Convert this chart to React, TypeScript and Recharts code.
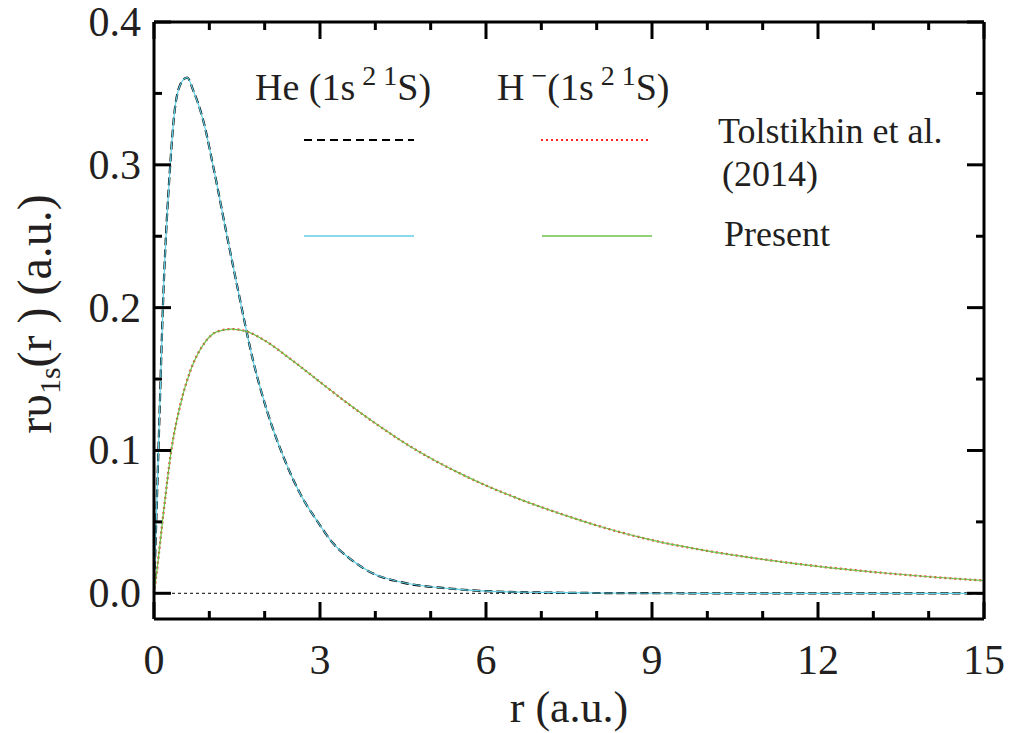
import React from 'react'
import { LineChart, Line, XAxis, YAxis, ReferenceLine } from 'recharts'

// He (1s² ¹S): radial samples r (a.u.) and r·υ1s(r)
const heR = [0, 0.04, 0.08, 0.17, 0.29, 0.38, 0.5, 0.6, 0.71, 0.89, 1.07, 1.31, 1.52, 1.79, 2.04, 2.34, 2.64, 2.94, 3.24, 3.54, 3.96, 4.45, 5.35, 6, 7, 8, 10, 12, 15]
const heV = [0, 0.05, 0.1, 0.21, 0.298, 0.34, 0.358, 0.361, 0.352, 0.331, 0.299, 0.252, 0.212, 0.163, 0.128, 0.0955, 0.0698, 0.0511, 0.0348, 0.0243, 0.0138, 0.0079, 0.0033, 0.0015, 0.0006, 0.0002, 0, 0, 0]

// H⁻ (1s² ¹S)
const hmR = [0, 0.05, 0.17, 0.32, 0.47, 0.65, 0.89, 1.13, 1.4, 1.7, 2, 2.5, 3, 3.5, 4, 4.5, 5, 5.5, 6, 6.5, 7, 7.5, 8, 9, 10, 11, 12, 13, 14, 15]
const hmV = [0, 0.015, 0.056, 0.102, 0.131, 0.155, 0.174, 0.183, 0.185, 0.183, 0.177, 0.163, 0.148, 0.133, 0.119, 0.106, 0.0945, 0.0845, 0.0755, 0.0675, 0.0603, 0.0537, 0.0475, 0.0372, 0.0297, 0.0238, 0.0189, 0.0149, 0.0116, 0.0089]

const xTicks = [0, 1, 2, 3, 4, 5, 6, 7, 8, 9, 10, 11, 12, 13, 14, 15]
const yTicks = [0, 0.05, 0.1, 0.15, 0.2, 0.25, 0.3, 0.35, 0.4]
const yTickLabels = ['0.0', '0.1', '0.2', '0.3', '0.4']

const heData = heR.map((r, i) => ({ r, v: heV[i] }))
const hmData = hmR.map((r, i) => ({ r, v: hmV[i] }))

const FONT = '"Liberation Serif", "Times New Roman", serif'
const TEXT = '#231f20'
const MAJOR = 17
const MINOR = 8
const Y_DOMAIN: [number, number] = [-0.018, 0.4]

const isMajorX = (v: number) => v % 3 === 0
const isMajorY = (v: number) => Math.round(v * 100) % 10 === 0

const BottomTick = (props: any) => {
  const { x, y, payload } = props
  const v = payload.value
  const major = isMajorX(v)
  return (
    <g>
      <line x1={x} x2={x} y1={y} y2={y - (major ? MAJOR : MINOR)} stroke="#000" strokeWidth={3} />
      {major && (
        <text x={x} y={y + 55} textAnchor="middle" fontFamily={FONT} fontSize={42} fill={TEXT}>
          {v}
        </text>
      )}
    </g>
  )
}

const TopTick = (props: any) => {
  const { x, y, payload } = props
  const major = isMajorX(payload.value)
  return <line x1={x} x2={x} y1={y} y2={y + (major ? MAJOR : MINOR)} stroke="#000" strokeWidth={3} />
}

const LeftTick = (props: any) => {
  const { x, y, payload } = props
  const v = payload.value
  const major = isMajorY(v)
  return (
    <g>
      <line x1={x} x2={x + (major ? MAJOR : MINOR)} y1={y} y2={y} stroke="#000" strokeWidth={3} />
      {major && (
        <text x={x - 13} y={y + 14} textAnchor="end" fontFamily={FONT} fontSize={42} fill={TEXT}>
          {yTickLabels[Math.round(v * 10)]}
        </text>
      )}
    </g>
  )
}

const RightTick = (props: any) => {
  const { x, y, payload } = props
  const major = isMajorY(payload.value)
  return <line x1={x} x2={x - (major ? MAJOR : MINOR)} y1={y} y2={y} stroke="#000" strokeWidth={3} />
}

const frame = { stroke: '#000', strokeWidth: 3 }

function Overlay() {
  const t = { fontFamily: FONT, fill: TEXT }
  return (
    <svg width={1012} height={733} style={{ position: 'absolute', left: 0, top: 0, pointerEvents: 'none' }}>
      {/* axis titles */}
      <text x={569} y={722} textAnchor="middle" fontSize={44} {...t}>
        r (a.u.)
      </text>
      <text transform="translate(51 314) rotate(-90)" textAnchor="middle" fontSize={48} {...t}>
        rυ<tspan fontSize={30} dy={9}>1s</tspan>
        <tspan dy={-9}>(r ) (a.u.)</tspan>
      </text>

      {/* legend */}
      <text x={255} y={100} fontSize={38} {...t}>
        He (1s<tspan fontSize={28} dy={-15}> 2</tspan>
        <tspan fontSize={28}> 1</tspan>
        <tspan dy={15}>S)</tspan>
      </text>
      <text x={497} y={100} fontSize={38} {...t}>
        H<tspan fontSize={28} dy={-15}> −</tspan>
        <tspan dy={15}>(1s</tspan>
        <tspan fontSize={28} dy={-15}> 2</tspan>
        <tspan fontSize={28}> 1</tspan>
        <tspan dy={15}>S)</tspan>
      </text>
      <line x1={304} x2={414} y1={140} y2={140} stroke="#000" strokeWidth={2} strokeDasharray="8 5" />
      <line x1={541} x2={650} y1={140} y2={140} stroke="#ff2020" strokeWidth={2} strokeDasharray="2 3" />
      <line x1={304} x2={414} y1={236} y2={236} stroke="#5fcfe3" strokeWidth={1.5} />
      <line x1={542} x2={652} y1={236} y2={236} stroke="#6cc24a" strokeWidth={1.5} />
      <text x={718} y={143} fontSize={36} {...t}>
        Tolstikhin et al.
      </text>
      <text x={722} y={186} fontSize={36} {...t}>
        (2014)
      </text>
      <text x={724} y={246} fontSize={36} {...t}>
        Present
      </text>
    </svg>
  )
}

export default function App() {
  return (
    <div style={{ position: 'absolute', left: 0, top: 0, width: 1012, height: 733, background: '#fff' }}>
      <LineChart width={1012} height={733} margin={{ top: 21, right: 27, bottom: 54, left: 74 }}>
        <XAxis
          xAxisId="b"
          type="number"
          dataKey="r"
          domain={[0, 15]}
          ticks={xTicks}
          interval={0}
          height={60}
          tickSize={0}
          tickMargin={0}
          tickLine={false}
          axisLine={frame}
          tick={BottomTick}
        />
        <XAxis
          xAxisId="t"
          orientation="top"
          type="number"
          dataKey="r"
          domain={[0, 15]}
          ticks={xTicks}
          interval={0}
          height={1}
          tickSize={0}
          tickMargin={0}
          tickLine={false}
          axisLine={frame}
          tick={TopTick}
        />
        <YAxis
          yAxisId="l"
          type="number"
          domain={Y_DOMAIN}
          ticks={yTicks}
          interval={0}
          width={80}
          tickSize={0}
          tickMargin={0}
          tickLine={false}
          axisLine={frame}
          tick={LeftTick}
        />
        <YAxis
          yAxisId="rt"
          orientation="right"
          type="number"
          domain={Y_DOMAIN}
          ticks={yTicks}
          interval={0}
          width={1}
          tickSize={0}
          tickMargin={0}
          tickLine={false}
          axisLine={frame}
          tick={RightTick}
        />
        <ReferenceLine xAxisId="b" yAxisId="l" y={0} stroke="#000" strokeWidth={1} strokeDasharray="3 3" />
        {/* Tolstikhin et al. (2014), He — bound to the top/right axes (same domains) */}
        <Line
          xAxisId="t"
          yAxisId="rt"
          data={heData}
          dataKey="v"
          type="monotone"
          stroke="#000"
          strokeWidth={2.2}
          strokeDasharray="8 4"
          dot={false}
          isAnimationActive={false}
        />
        <Line
          xAxisId="b"
          yAxisId="l"
          data={heData}
          dataKey="v"
          type="monotone"
          stroke="#5fcfe3"
          strokeWidth={1.2}
          dot={false}
          isAnimationActive={false}
        />
        <Line
          xAxisId="b"
          yAxisId="l"
          data={hmData}
          dataKey="v"
          type="monotone"
          stroke="#ff2020"
          strokeWidth={2.2}
          strokeDasharray="2 3"
          dot={false}
          isAnimationActive={false}
        />
        <Line
          xAxisId="b"
          yAxisId="l"
          data={hmData}
          dataKey="v"
          type="monotone"
          stroke="#6cc24a"
          strokeWidth={1.2}
          dot={false}
          isAnimationActive={false}
        />
      </LineChart>
      <Overlay />
    </div>
  )
}
